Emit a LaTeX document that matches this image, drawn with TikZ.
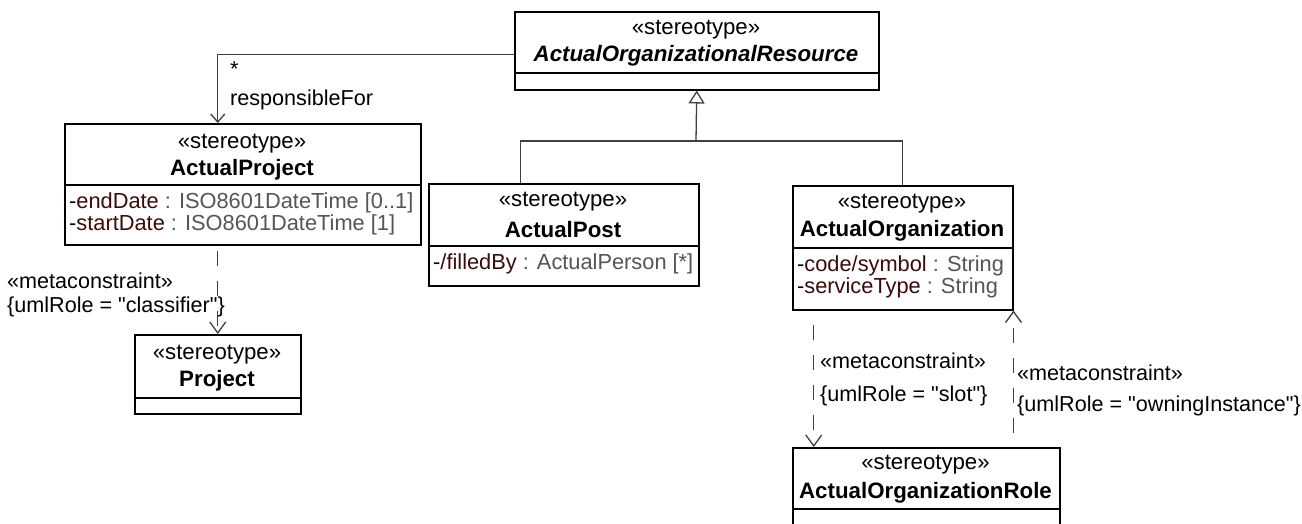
\documentclass[tikz,border=0pt]{standalone}
\usepackage{fontspec}
\setmainfont{Liberation Sans}
\usetikzlibrary{arrows.meta}
\definecolor{attrname}{HTML}{3C0A0A}
\definecolor{attrtype}{HTML}{555555}
\definecolor{linec}{HTML}{404040}
\tikzset{
  umlbox/.style={draw=black, line width=1.5pt, anchor=north west, inner sep=0pt, fill=white},
  divider/.style={draw=black, line width=1.5pt},
  txt/.style={inner sep=0pt, font=\fontsize{22.2}{26}\selectfont},
  nametxt/.style={txt, font=\fontsize{22.3}{26}\selectfont\bfseries},
  attr/.style={inner sep=0pt, anchor=west, font=\fontsize{21.8}{26}\selectfont},
  lbl/.style={inner sep=0pt, anchor=west, font=\fontsize{21.6}{25}\selectfont},
  conn/.style={draw=linec, line width=1.3pt},
  assoc/.style={conn, -{Straight Barb[length=8pt,width=14pt]}},
  dep/.style={conn, dash pattern=on 15pt off 15pt, -{Straight Barb[length=11pt,width=16pt]}},
  gen/.style={conn, -{Triangle[open, length=13pt, width=16pt, fill=white]}}
}
\newcommand{\aname}[1]{\textcolor{attrname}{#1}}
\newcommand{\atype}[1]{\textcolor{attrtype}{#1}}
\newcommand{\qq}{\textquotedbl}
\begin{document}
\begin{tikzpicture}[x=1pt,y=-1pt]
\useasboundingbox (0,0) rectangle (1302,523);
\fill[white] (0,0) rectangle (1302,523);

% ActualOrganizationalResource
\node[umlbox, minimum width=364pt, minimum height=78pt] (AOR) at (514,11) {};
\draw[divider] (514,73) -- (878,73);
\node[txt] (AORst) at (696,30) {«stereotype»};
\node[nametxt, font=\fontsize{22.3}{26}\selectfont\bfseries\itshape] (AORnm) at (696,56) {ActualOrganizationalResource};

% ActualProject
\node[umlbox, minimum width=356pt, minimum height=121pt] (AP) at (64,123) {};
\draw[divider] (64,185) -- (420,185);
\node[txt] (APst) at (242,144) {«stereotype»};
\node[nametxt] (APnm) at (242,170) {ActualProject};
\node[attr] (APa1) at (69,203) {-\aname{endDate}\ \atype{: ISO8601DateTime [0..1]}};
\node[attr] (APa2) at (69,225) {-\aname{startDate}\ \atype{: ISO8601DateTime [1]}};

% ActualPost
\node[umlbox, minimum width=270pt, minimum height=102pt] (Post) at (428,183) {};
\draw[divider] (428,246) -- (698,246);
\node[txt] (Postst) at (563,202) {«stereotype»};
\node[nametxt] (Postnm) at (563,230) {ActualPost};
\node[attr] (Posta1) at (433,264) {-\aname{/filledBy}\ \atype{: ActualPerson [*]}};

% ActualOrganization
\node[umlbox, minimum width=220pt, minimum height=124pt] (AO) at (792,185) {};
\draw[divider] (792,248) -- (1012,248);
\node[txt] (AOst) at (902,204) {«stereotype»};
\node[nametxt] (AOnm) at (902,231) {ActualOrganization};
\node[attr] (AOa1) at (797,266) {-\aname{code/symbol}\ \atype{: String}};
\node[attr] (AOa2) at (797,288) {-\aname{serviceType}\ \atype{: String}};

% Project
\node[umlbox, minimum width=166pt, minimum height=79pt] (Proj) at (134,334) {};
\draw[divider] (134,398) -- (300,398);
\node[txt] (Projst) at (217,355) {«stereotype»};
\node[nametxt] (Projnm) at (217,381) {Project};

% ActualOrganizationRole
\node[umlbox, minimum width=267pt, minimum height=93pt] (AOR2) at (792,447) {};
\draw[divider] (792,509) -- (1059,509);
\node[txt] (AOR2st) at (925.5,465) {«stereotype»};
\node[nametxt] (AOR2nm) at (925.5,493) {ActualOrganizationRole};

% association responsibleFor
\draw[assoc] ([yshift=-4pt]AOR.west) -| ([xshift=-25pt]AP.north);
\node[lbl] (mult) at (230,69) {*};
\node[lbl] (role) at (230,100) {responsibleFor};

% generalization
\coordinate (g) at (696,141);
\draw[conn] ([xshift=-43pt]Post.north) |- (g) -| (AO.north);
\draw[gen] (g) -- (AOR.south);

% classifier dependency
\draw[dep, shorten <=5pt] (AP.south -| Proj.north) -- (Proj.north);
\node[lbl] (c1) at (7,281) {«metaconstraint»};
\node[lbl] (c2) at (7,307) {\{umlRole = \qq classifier\qq\}};

% slot dependency
\draw[dep, shorten <=14pt] ([xshift=-89pt]AO.south) -- ([xshift=-89pt]AO.south |- AOR2.north);
\node[lbl] (s1) at (820,361) {«metaconstraint»};
\node[lbl] (s2) at (820,396) {\{umlRole = \qq slot\qq\}};

% owningInstance dependency
\draw[dep, shorten <=14pt] (AOR2.north -| AO.south east) -- (AO.south east);
\node[lbl] (o1) at (1017,373) {«metaconstraint»};
\node[lbl] (o2) at (1017,406) {\{umlRole = \qq owningInstance\qq\}};
\end{tikzpicture}
\end{document}
